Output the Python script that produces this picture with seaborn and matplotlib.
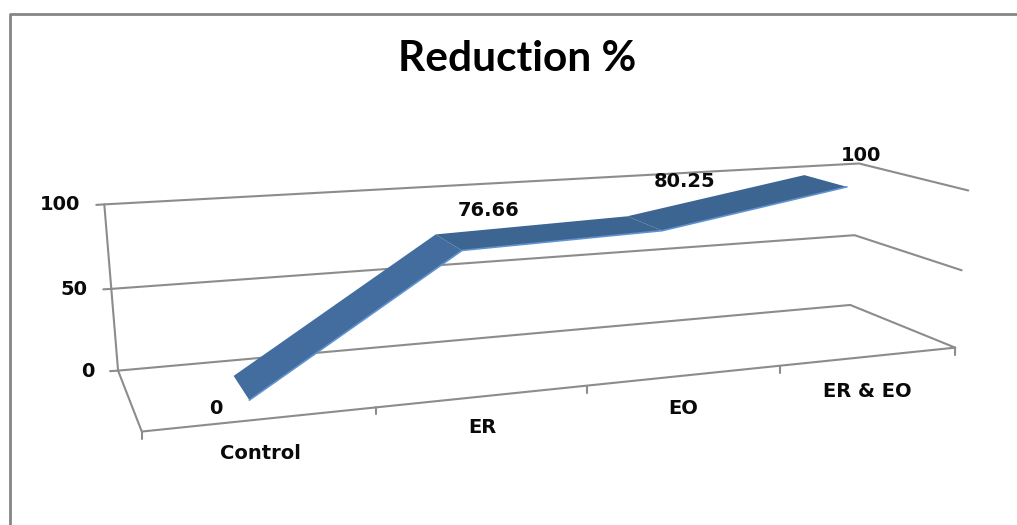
import numpy as np
import pandas as pd
import matplotlib
matplotlib.use("Agg")
import matplotlib.pyplot as plt
import seaborn as sns

categories = ["Control", "ER", "EO", "ER & EO"]
reduction = [0, 76.66, 80.25, 100]
value_ticks = [0, 50, 100]
title = "Reduction %"

GRID = "#8c8c8c"
FACE = ["#436d9f", "#3c6591", "#3c6591"]
RIM = "#5f92cf"
LABEL_FONT = ["DejaVu Sans"]
RIBBON_BACK, RIBBON_FRONT = 0.28, 0.70

# Camera for the pseudo-3D box: (along, depth, value) -> canvas pixels.
# along runs 0..1 over the category axis, depth 0 at the back wall, 1 at the front.
anchors = [
    ((0, 0, 0), (118, 370.5)), ((0, 0, 50), (111, 288)), ((0, 0, 100), (104.5, 205)),
    ((1, 0, 0), (851, 305)), ((1, 0, 50), (855, 235)), ((1, 0, 100), (858, 164)),
    ((1, 1, 0), (954, 348)), ((1, 1, 50), (962, 270)), ((1, 1, 100), (969, 190)),
    ((0, 1, 0), (142, 432)),
]


def fit_camera(pairs):
    rows = []
    for (a, d, v), (px, py) in pairs:
        s = np.array([a, d, v / 100, 1.0])
        rows.append(np.r_[s, np.zeros(4), -px * s])
        rows.append(np.r_[np.zeros(4), s, -py * s])
    return np.linalg.svd(np.array(rows))[2][-1].reshape(3, 4)


CAM = fit_camera(anchors)


def project(a, d, v):
    p = CAM @ np.array([a, d, v / 100, 1.0])
    return p[0] / p[2], p[1] / p[2]


def segment(ax, pts, lw=1.5, color=GRID):
    df = pd.DataFrame(pts, columns=["x", "y"])
    sns.lineplot(data=df, x="x", y="y", sort=False, estimator=None, ax=ax,
                 color=color, linewidth=lw, legend=False)


sns.set_theme(style="white")
fig = plt.figure(figsize=(10.17, 5.25), dpi=100)
ax = fig.add_axes([0, 0, 1, 1])
ax.set_xlim(0, 1017)
ax.set_ylim(525, 0)
ax.axis("off")

# Outer chart frame: only the left and top edges are visible.
segment(ax, [(10, 525), (10, 13.5), (1017, 13.5)], lw=2.0, color="#858585")

# Walls: each gridline runs along the back wall and then forward along the side wall.
for v in value_ticks:
    segment(ax, [project(0, 0, v), project(1, 0, v), project(1, 1, v)])
    tx, ty = project(0, 0, v)
    segment(ax, [(tx - 8, ty + 0.5), (tx, ty)])
    ax.text(tx - 24, ty + 0.5, str(v), ha="right", va="center", fontsize=14,
            fontweight="bold", family=LABEL_FONT, color="#0a0a0a")

# Left wall edge, floor side and front axis with its tick marks.
segment(ax, [project(0, 0, 100), project(0, 0, 0), project(0, 1, 0), project(1, 1, 0)])
n = len(categories)
for i in range(n + 1):
    x0, y0 = project(i / n, 1, 0)
    segment(ax, [(x0, y0), (x0, y0 + 7)])

# Ribbon: one shaded quad per segment, with a lighter lower rim.
centres = [(i + 0.5) / n for i in range(n)]
back = [project(a, RIBBON_BACK, v) for a, v in zip(centres, reduction)]
front = [project(a, RIBBON_FRONT, v) for a, v in zip(centres, reduction)]
for i in range(n - 1):
    ax.fill([back[i][0], back[i + 1][0], front[i + 1][0], front[i][0]],
            [back[i][1], back[i + 1][1], front[i + 1][1], front[i][1]],
            color=FACE[i], linewidth=0, zorder=3)
rim = sns.lineplot(data=pd.DataFrame(front, columns=["x", "y"]), x="x", y="y", sort=False,
                   estimator=None, ax=ax, color=RIM, linewidth=1.2, legend=False)
rim.lines[-1].set_zorder(4)

# Value labels sit above the ribbon's back edge.
label_offsets = [(-18, 33), (53, -24), (57, -35), (57, -20)]
for (bx, by), val, (ox, oy) in zip(back, reduction, label_offsets):
    ax.text(bx + ox, by + oy, f"{val:g}", ha="center", va="center", fontsize=14,
            fontweight="bold", family=LABEL_FONT, color="#0a0a0a", zorder=5)

# Category labels below the front axis.
cat_offsets = [(-1, 34), (-2, 31), (-2, 33), (-2, 35)]
for a, name, (ox, oy) in zip(centres, categories, cat_offsets):
    x0, y0 = project(a, 1, 0)
    ax.text(x0 + ox, y0 + oy, name, ha="center", va="center", fontsize=14,
            fontweight="bold", family=LABEL_FONT, color="#0a0a0a")

ax.text(517, 59, title, ha="center", va="center", fontsize=30.5, fontweight="bold",
        family=["Lato", "DejaVu Sans"], color="#000000")

ax.set_xlabel("")
ax.set_ylabel("")
fig.savefig("out.png", dpi=100, facecolor="white")
